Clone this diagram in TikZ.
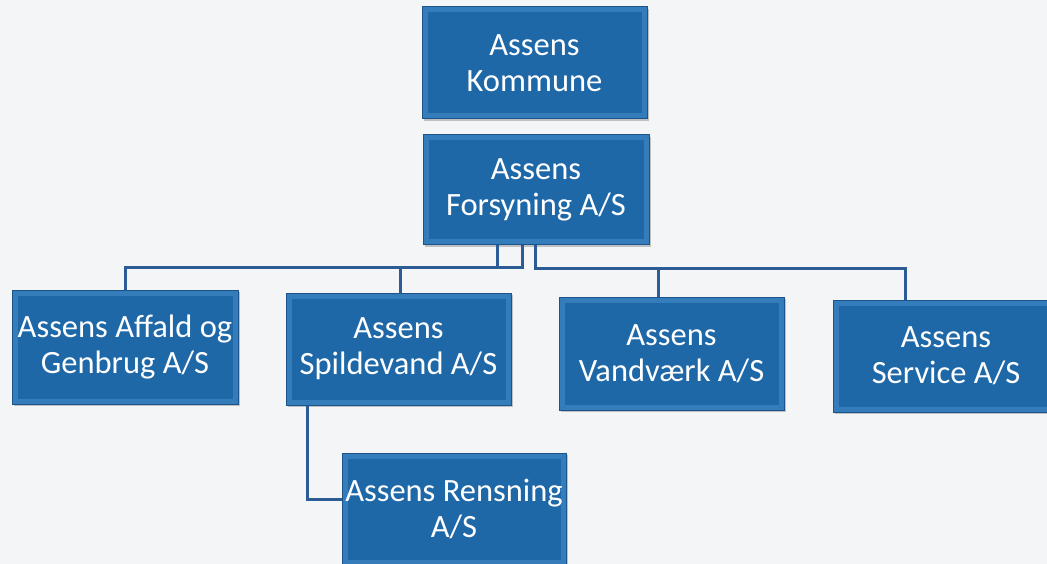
\documentclass[tikz,border=0pt]{standalone}
\usepackage{fontspec}
\setmainfont{Carlito}
\usetikzlibrary{shadows}
\definecolor{bg}{RGB}{244,245,247}
\definecolor{boxblue}{RGB}{31,104,168}
\definecolor{boxedge}{RGB}{52,124,186}
\definecolor{boxdark}{RGB}{26,84,138}
\definecolor{conncol}{RGB}{44,92,150}
\tikzset{
  orgbox/.style={rectangle, fill=boxblue, draw=boxdark, line width=1pt,
    inner sep=0pt, align=center, text=white,
    font=\fontsize{32.5}{36}\selectfont,
    path picture={\draw[boxedge, line width=5pt]
      ([xshift=3pt,yshift=-3pt]path picture bounding box.north west) rectangle
      ([xshift=-3pt,yshift=3pt]path picture bounding box.south east);},
    drop shadow={shadow xshift=1.5pt, shadow yshift=-2pt, opacity=0.45}},
  conn/.style={draw=conncol, line width=3pt}
}
\begin{document}
\begin{tikzpicture}[x=1pt,y=-1pt]
\fill[bg] (0,0) rectangle (1047,564);
\useasboundingbox (0,0) rectangle (1047,564);
\clip (0,0) rectangle (1047,564);
\node[orgbox, minimum width=225pt, minimum height=112pt] (komm) at (534.5,63) {Assens\\Kommune};
\node[orgbox, minimum width=226pt, minimum height=110pt] (fors) at (536,190) {Assens\\Forsyning A/S};
\node[orgbox, minimum width=226pt, minimum height=114pt] (affald) at (125,347) {Assens Affald og\\Genbrug A/S};
\node[orgbox, minimum width=225pt, minimum height=112pt] (spild) at (398.5,349) {Assens\\Spildevand A/S};
\node[orgbox, minimum width=225pt, minimum height=113pt] (vand) at (671.5,353.5) {Assens\\Vandværk A/S};
\node[orgbox, minimum width=226pt, minimum height=112pt] (serv) at (946,356) {Assens\\Service A/S};
\node[orgbox, minimum width=224pt, minimum height=112pt] (rens) at (454,509) {Assens Rensning\\A/S};
\draw[conn] ([xshift=-39pt]fors.south) -- ++(0,22) -| (affald.north);
\draw[conn] ([xshift=-14pt]fors.south) -- ++(0,22) -| ([xshift=1.5pt]spild.north);
\draw[conn] ([xshift=-1pt]fors.south) -- ++(0,23) -| ([xshift=-13.5pt]vand.north);
\draw[conn] ([xshift=-1pt]fors.south) -- ++(0,23) -| ([xshift=-41pt]serv.north);
\draw[conn] ([xshift=22pt]spild.south west) |- ([yshift=10pt]rens.west);
\end{tikzpicture}
\end{document}
